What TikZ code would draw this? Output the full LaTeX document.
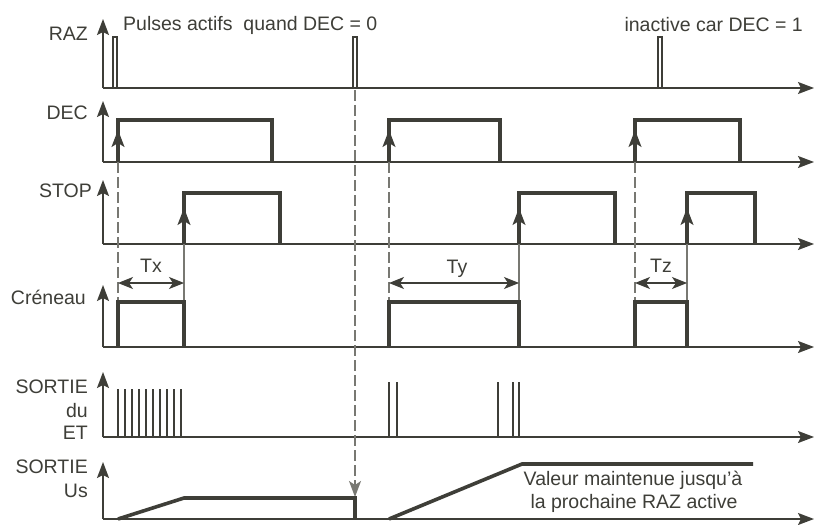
\documentclass[tikz,border=0pt]{standalone}
\usepackage{fontspec}
\setmainfont{Liberation Sans}
\usetikzlibrary{arrows.meta}
\definecolor{ink}{RGB}{62,62,56}
\definecolor{guidec}{RGB}{120,120,114}
\begin{document}
\begin{tikzpicture}[x=1pt,y=-1pt,
  axis/.style={draw=ink,line width=1.5pt,-{Stealth[length=16pt,width=12pt,inset=3pt]}},
  sig/.style={draw=ink,line width=3.6pt,line join=miter,line cap=butt},
  thinsig/.style={draw=ink,line width=1.5pt},
  pulse/.style={draw=ink,line width=2.3pt},
  guide/.style={draw=guidec,line width=1.1pt},
  dashguide/.style={draw=guidec,line width=1.3pt,dash pattern=on 11pt off 4pt},
  edgearrow/.style={draw=ink,line width=1.5pt,-{Stealth[length=17pt,width=13pt,inset=4pt]}},
  lbl/.style={inner sep=0pt,font=\fontsize{19.5}{23}\selectfont,text=ink},
  dim/.style={draw=ink,line width=1.1pt,{Stealth[length=15pt,width=12pt,inset=4pt]}-{Stealth[length=15pt,width=12pt,inset=4pt]}}
]
\useasboundingbox (0,0) rectangle (818,524);
\fill[white] (0,0) rectangle (818,524);

% ---- axes ----
\foreach \n/\b/\t in {raz/88/19, dec/162/101, stop/244/180, cre/347/285, et/437/372, us/519/462}{
  \coordinate (\n-o) at (103,\b);
  \coordinate (\n-t) at (103,\t);
  \coordinate (\n-e) at (814,\b);
  \draw[axis] (\n-o) -- (\n-t);
  \draw[axis] (\n-o) -- (\n-e);
}

% ---- labels ----
\node[lbl,anchor=east] (lraz) at (88,34) {RAZ};
\node[lbl,anchor=east] (ldec) at (88,113) {DEC};
\node[lbl,anchor=east] (lstop) at (92,191) {STOP};
\node[lbl,anchor=east] (lcre) at (86,297) {Créneau};
\node[lbl,anchor=east] (let1) at (88,387) {SORTIE};
\node[lbl,anchor=east] (let2) at (88,411) {du};
\node[lbl,anchor=east] (let3) at (88,433) {ET};
\node[lbl,anchor=east] (lus1) at (88,467) {SORTIE};
\node[lbl,anchor=east] (lus2) at (88,491) {Us};

\node[lbl,anchor=west] (tpulse) at (123,25) {Pulses actifs\ \ quand DEC = 0};
\node[lbl,anchor=east] (tinact) at (803,25) {inactive car DEC = 1};
\node[lbl] (tval1) at (633,480) {Valeur maintenue jusqu'à};
\node[lbl] (tval2) at (634,503) {la prochaine RAZ active};

% ---- RAZ pulses ----
\foreach \x in {113,353,658}{
  \draw[thinsig] (\x,88) -- (\x,37) -- (\x+4,37) -- (\x+4,88);
}

% ---- guides ----
\draw[dashguide] (118,162) -- (118,302);
\draw[dashguide] (389,162) -- (389,302);
\draw[dashguide] (635,162) -- (635,302);
\draw[guide] (184,244) -- (184,302);
\draw[guide] (519,244) -- (519,302);
\draw[guide] (687,244) -- (687,302);
\draw[dashguide,-{Stealth[length=16pt,width=12pt,inset=4pt]}] (355,90) -- (355,497);

% ---- DEC ----
\draw[sig] (118,162) -- (118,120) -- (272,120) -- (272,162);
\draw[sig] (389,162) -- (389,120) -- (500,120) -- (500,162);
\draw[sig] (635,162) -- (635,120) -- (740,120) -- (740,162);
\draw[edgearrow] (118,160) -- (118,130);
\draw[edgearrow] (389,160) -- (389,130);
\draw[edgearrow] (635,160) -- (635,130);

% ---- STOP ----
\draw[sig] (184,244) -- (184,193) -- (280,193) -- (280,244);
\draw[sig] (519,244) -- (519,193) -- (615,193) -- (615,244);
\draw[sig] (687,244) -- (687,193) -- (755,193) -- (755,244);
\draw[edgearrow] (184,242) -- (184,208);
\draw[edgearrow] (519,242) -- (519,208);
\draw[edgearrow] (687,242) -- (687,208);

% ---- Créneau ----
\draw[sig] (118,347) -- (118,302) -- (184,302) -- (184,347);
\draw[sig] (389,347) -- (389,302) -- (519,302) -- (519,347);
\draw[sig] (635,347) -- (635,302) -- (687,302) -- (687,347);

% ---- durations ----
\coordinate (tx-a) at (118,283); \coordinate (tx-b) at (184,283);
\coordinate (ty-a) at (389,283); \coordinate (ty-b) at (519,283);
\coordinate (tz-a) at (635,283); \coordinate (tz-b) at (687,283);
\draw[dim] (tx-a) -- (tx-b);
\draw[dim] (ty-a) -- (ty-b);
\draw[dim] (tz-a) -- (tz-b);
\node[lbl] (ltx) at (151,266) {Tx};
\node[lbl] (lty) at (457,269) {Ty};
\node[lbl] (ltz) at (661,266) {Tz};

% ---- SORTIE du ET ----
\foreach \i in {0,...,9}{
  \draw[pulse] (118+7*\i,437) -- (118+7*\i,389);
}
\foreach \x in {389,397,498,513,519}{
  \draw[pulse] (\x,437) -- (\x,382);
}

% ---- SORTIE Us ----
\draw[sig] (118,519) -- (184,498) -- (355,498) -- (355,519);
\draw[sig] (389,519) -- (522,464) -- (753,464);

\end{tikzpicture}
\end{document}
